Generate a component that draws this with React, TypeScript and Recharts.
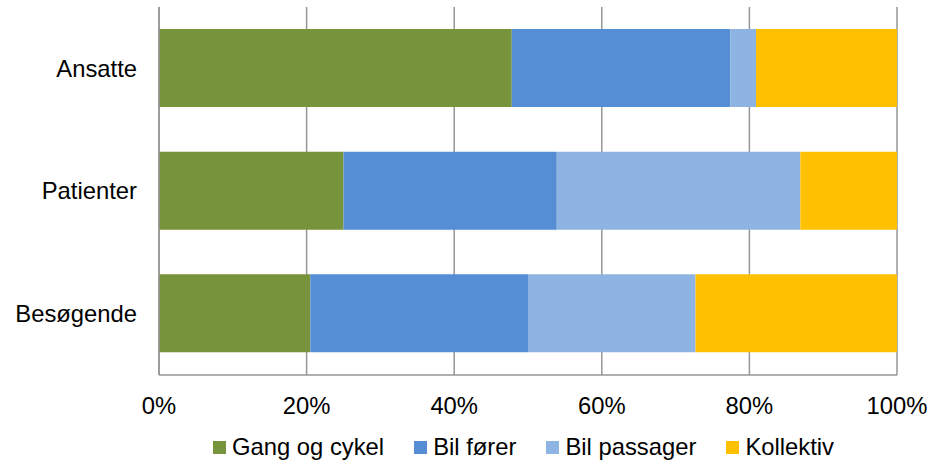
import {
  BarChart,
  Bar,
  XAxis,
  YAxis,
  CartesianGrid,
  Legend,
} from "recharts";

const groups = ["Ansatte", "Patienter", "Besøgende"];

const gangOgCykel = [47.8, 25.0, 20.5];
const bilForer = [29.6, 28.9, 29.5];
const bilPassager = [3.5, 33.0, 22.7];
const kollektiv = [19.1, 13.1, 27.3];

const percentTicks = [0, 20, 40, 60, 80, 100];

const series = [
  { key: "gang", name: "Gang og cykel", color: "#77933C", values: gangOgCykel },
  { key: "forer", name: "Bil fører", color: "#558ED5", values: bilForer },
  { key: "passager", name: "Bil passager", color: "#8EB4E3", values: bilPassager },
  { key: "kollektiv", name: "Kollektiv", color: "#FFC000", values: kollektiv },
];

const data = groups.map((group, i) => {
  const row: Record<string, string | number> = { group };
  series.forEach((s) => {
    row[s.key] = s.values[i];
  });
  return row;
});

const font = "'Liberation Sans', Arial, sans-serif";
const fontSize = 23.8;

function LegendRow() {
  return (
    <div
      style={{
        display: "flex",
        alignItems: "center",
        height: 40,
        paddingTop: 8,
        paddingLeft: 213,
        boxSizing: "border-box",
        fontFamily: font,
        fontSize,
        color: "#000",
      }}
    >
      {series.map((s) => (
        <div
          key={s.key}
          style={{ display: "flex", alignItems: "center", marginRight: 30 }}
        >
          <span
            style={{
              width: 13,
              height: 13,
              background: s.color,
              marginRight: 6,
              display: "inline-block",
            }}
          />
          <span>{s.name}</span>
        </div>
      ))}
    </div>
  );
}

export default function App() {
  return (
    <div style={{ position: "absolute", left: 0, top: 0, background: "#fff" }}>
      <BarChart
        width={951}
        height={463}
        data={data}
        layout="vertical"
        margin={{ top: 7, right: 54, left: 0, bottom: 0 }}
      >
        <CartesianGrid horizontal={false} stroke="#969696" strokeWidth={1.5} />
        <XAxis
          type="number"
          domain={[0, 100]}
          ticks={percentTicks}
          tickFormatter={(v: number) => `${v}%`}
          height={48}
          tickLine={false}
          tickSize={0}
          tickMargin={22}
          axisLine={{ stroke: "#969696", strokeWidth: 1.5 }}
          tick={{ fill: "#000", fontSize, fontFamily: font }}
          interval={0}
        />
        <YAxis
          type="category"
          dataKey="group"
          width={159}
          tickLine={false}
          tickSize={0}
          tickMargin={22}
          axisLine={{ stroke: "#969696", strokeWidth: 1.5 }}
          tick={{ fill: "#000", fontSize, fontFamily: font }}
        />
        <Legend
          verticalAlign="bottom"
          height={40}
          content={() => <LegendRow />}
        />
        {series.map((s) => (
          <Bar
            key={s.key}
            dataKey={s.key}
            name={s.name}
            stackId="a"
            fill={s.color}
            barSize={78}
            isAnimationActive={false}
          />
        ))}
      </BarChart>
    </div>
  );
}
